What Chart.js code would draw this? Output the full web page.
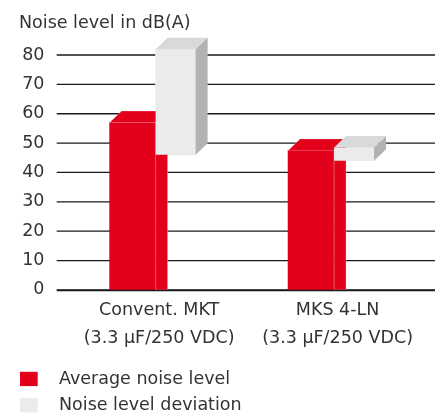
<!DOCTYPE html>
<html>
<head>
<meta charset="utf-8">
<script src="https://cdn.jsdelivr.net/npm/chart.js@4.4.1/dist/chart.umd.min.js"></script>
<style>
html,body{margin:0;padding:0;background:#ffffff;}
#wrap{width:435px;height:414px;position:relative;}
</style>
</head>
<body>
<div id="wrap"><canvas id="c" width="435" height="414"></canvas></div>
<script>
// ---- data ----
const titleText = 'Noise level in dB(A)';
const categories = [
  ['Convent. MKT', '(3.3 μF/250 VDC)'],
  ['MKS 4-LN', '(3.3 μF/250 VDC)']
];
const seriesNames = ['Average noise level', 'Noise level deviation'];
const averageNoise = [57, 47.5];
const deviationRange = [[46, 82], [44, 48.5]];
const yMin = 0;
const yMax = 80;
const yStep = 10;

// ---- style ----
const FONT = 'DejaVu Sans';
const TEXT = '#333333';
const RED = '#e2001a';
const GRAY_FRONT = '#ebebeb';
const GRAY_TOP = '#d8d9da';
const GRAY_SIDE = '#b1b2b4';
const DX = 12, DY = 11.5;

function poly(ctx, pts, fill, stroke) {
  ctx.beginPath();
  ctx.moveTo(pts[0][0], pts[0][1]);
  for (let i = 1; i < pts.length; i++) ctx.lineTo(pts[i][0], pts[i][1]);
  ctx.closePath();
  ctx.fillStyle = fill;
  ctx.fill();
  if (stroke) { ctx.strokeStyle = stroke; ctx.lineWidth = 1; ctx.stroke(); }
}

const bar3d = {
  id: 'bar3d',
  beforeDatasetsDraw(chart) {
    const ctx = chart.ctx, ys = chart.scales.y;
    ctx.save();
    ctx.strokeStyle = '#1a1a1a';
    ctx.lineWidth = 1.3;
    ys.ticks.forEach(t => {
      const y = ys.getPixelForValue(t.value);
      ctx.beginPath();
      ctx.moveTo(56.7, y);
      ctx.lineTo(chart.width, y);
      ctx.stroke();
    });
    ctx.restore();
  },
  afterDatasetsDraw(chart) {
    const ctx = chart.ctx, ys = chart.scales.y;
    ctx.save();
    const m0 = chart.getDatasetMeta(0), m1 = chart.getDatasetMeta(1);
    m0.data.forEach(el => {
      const p = el.getProps(['x', 'y', 'base', 'width'], true);
      const L = p.x - p.width / 2, R = p.x + p.width / 2;
      const top = Math.min(p.y, p.base), bot = Math.max(p.y, p.base);
      poly(ctx, [[L, top], [R, top], [R + DX, top - DY], [L + DX, top - DY]], RED, 'rgba(255,255,255,0.25)');
      poly(ctx, [[R, top], [R + DX, top - DY], [R + DX, bot], [R, bot]], RED, 'rgba(255,255,255,0.3)');
    });
    m1.data.forEach(el => {
      const p = el.getProps(['x', 'y', 'base', 'width'], true);
      const L = p.x - p.width / 2, R = p.x + p.width / 2;
      const top = Math.min(p.y, p.base), bot = Math.max(p.y, p.base);
      poly(ctx, [[L, top], [R, top], [R, bot], [L, bot]], GRAY_FRONT);
      poly(ctx, [[L, top], [R, top], [R + DX, top - DY], [L + DX, top - DY]], GRAY_TOP);
      poly(ctx, [[R, top], [R + DX, top - DY], [R + DX, bot - DY], [R, bot]], GRAY_SIDE);
    });
    // zero line on top of the bar bases
    const y0 = ys.getPixelForValue(yMin);
    ctx.strokeStyle = '#1a1a1a';
    ctx.lineWidth = 1.5;
    ctx.beginPath();
    ctx.moveTo(56.7, y0 + 0.5);
    ctx.lineTo(chart.width, y0 + 0.5);
    ctx.stroke();
    ctx.restore();
  },
  afterDraw(chart) {
    // legend, stacked vertically under the axis labels
    const ctx = chart.ctx;
    ctx.save();
    ctx.font = '17.5px "' + FONT + '"';
    ctx.textBaseline = 'middle';
    ctx.textAlign = 'left';
    const rows = [379, 405.3];
    chart.data.datasets.forEach((ds, i) => {
      ctx.fillStyle = ds.legendColor;
      ctx.fillRect(20, rows[i] - 7.2, 17.7, 14.3);
      ctx.fillStyle = TEXT;
      ctx.fillText(ds.label, 59, rows[i] + 0.5);
    });
    ctx.restore();
  }
};

new Chart(document.getElementById('c'), {
  type: 'bar',
  data: {
    labels: categories,
    datasets: [
      {
        label: seriesNames[0],
        data: averageNoise,
        backgroundColor: RED,
        legendColor: RED,
        barThickness: 46,
        clip: false
      },
      {
        label: seriesNames[1],
        data: deviationRange,
        backgroundColor: GRAY_FRONT,
        legendColor: GRAY_FRONT,
        barThickness: 40,
        clip: false
      }
    ]
  },
  options: {
    responsive: false,
    animation: false,
    devicePixelRatio: 1,
    layout: { padding: { left: 19, right: 11.7, top: 0, bottom: 54.8 } },
    plugins: {
      legend: { display: false },
      tooltip: { enabled: false },
      title: {
        display: true,
        text: titleText,
        align: 'start',
        color: TEXT,
        font: { family: FONT, size: 17.5, weight: 'normal', lineHeight: 1.2 },
        padding: { top: 13, bottom: 21 }
      }
    },
    scales: {
      x: {
        grid: { display: false, drawTicks: false },
        border: { display: false },
        ticks: {
          color: TEXT,
          font: { family: FONT, size: 17.5, lineHeight: 1.58 },
          padding: 7,
          labelOffset: 3.5,
          maxRotation: 0,
          autoSkip: false
        }
      },
      y: {
        min: yMin,
        max: yMax,
        grid: { display: false, drawTicks: false },
        border: { display: false },
        afterFit(scale) { scale.width = 47.4; },
        ticks: {
          stepSize: yStep,
          color: TEXT,
          font: { family: FONT, size: 17.5 },
          padding: 22
        }
      }
    }
  },
  plugins: [bar3d]
});
</script>
</body>
</html>
